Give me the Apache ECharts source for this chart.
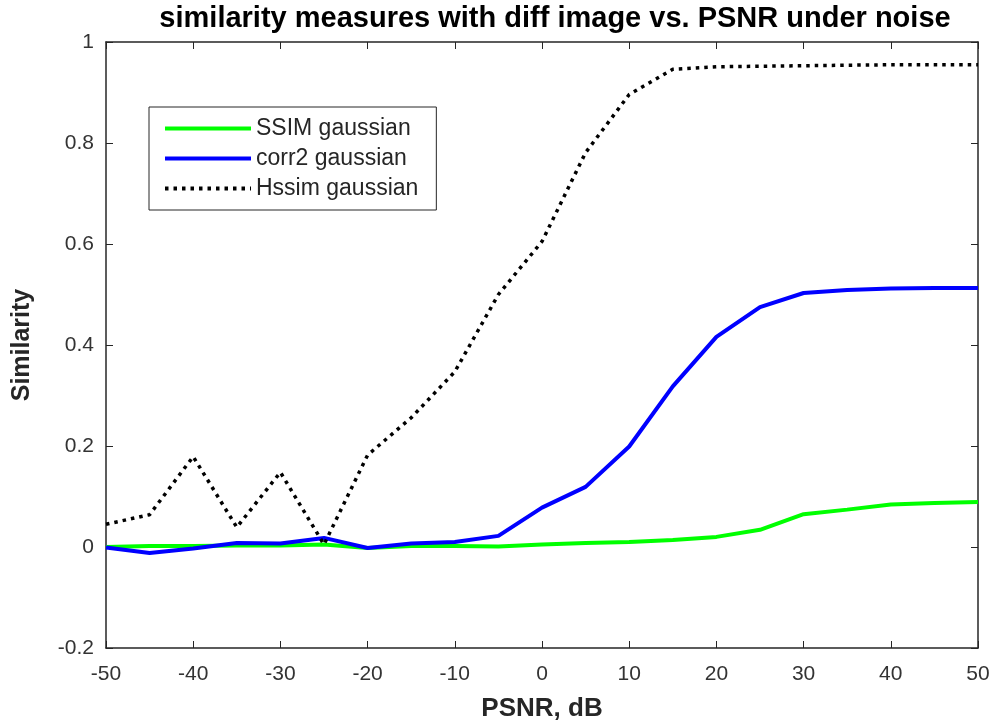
<!DOCTYPE html>
<html>
<head>
<meta charset="utf-8">
<script src="https://cdn.jsdelivr.net/npm/echarts@6/dist/echarts.min.js"></script>
<style>
html,body{margin:0;padding:0;background:#fff;}
#chart{width:997px;height:727px;}
</style>
</head>
<body>
<div id="chart"></div>
<script>
// ---- data ----
const psnr  = [-50, -45, -40, -35, -30, -25, -20, -15, -10, -5, 0, 5, 10, 15, 20, 25, 30, 35, 40, 45, 50];
const ssim  = [0.000, 0.002, 0.002, 0.003, 0.003, 0.005, -0.002, 0.002, 0.002, 0.001, 0.005, 0.008, 0.010, 0.014, 0.020, 0.034, 0.065, 0.074, 0.084, 0.087, 0.089];
const corr2 = [-0.001, -0.012, -0.003, 0.008, 0.007, 0.018, -0.002, 0.007, 0.010, 0.022, 0.078, 0.119, 0.199, 0.318, 0.416, 0.475, 0.503, 0.509, 0.512, 0.513, 0.513];
const hssim = [0.045, 0.064, 0.179, 0.039, 0.148, 0.005, 0.182, 0.256, 0.347, 0.500, 0.605, 0.781, 0.896, 0.946, 0.951, 0.952, 0.953, 0.954, 0.955, 0.955, 0.955];
const seriesNames = ['SSIM gaussian', 'corr2 gaussian', 'Hssim gaussian'];
const titleText = 'similarity measures with diff image vs. PSNR under noise';
const xName = 'PSNR, dB';
const yName = 'Similarity';

const pairs = ys => psnr.map((x, i) => [x, ys[i]]);
const FONT = 'Liberation Sans, Arial, Helvetica, sans-serif';
const AX = '#262626';

const chart = echarts.init(document.getElementById('chart'), null, {renderer: 'canvas'});

const baseX = {
  type: 'value', min: -50, max: 50, interval: 10,
  axisLine: {show: true, onZero: false, lineStyle: {color: AX, width: 1.5}},
  axisTick: {show: true, inside: true, length: 7, lineStyle: {color: AX, width: 1}},
  splitLine: {show: false}
};
const baseY = {
  type: 'value', min: -0.2, max: 1, interval: 0.2,
  axisLine: {show: true, onZero: false, lineStyle: {color: AX, width: 1.5}},
  axisTick: {show: true, inside: true, length: 7, lineStyle: {color: AX, width: 1}},
  splitLine: {show: false}
};

chart.setOption({
  backgroundColor: '#ffffff',
  animation: false,
  title: {
    text: titleText,
    left: 550, top: 0, padding: [4, 5, 5, 5],
    textAlign: 'center',
    textStyle: {fontFamily: FONT, fontWeight: 'bold', fontSize: 29, color: '#000'}
  },
  grid: {left: 106, right: 19, top: 42, bottom: 79, outerBoundsMode: 'none'},
  legend: {
    orient: 'vertical',
    left: 149, top: 107,
    padding: [10, 18, 10, 14],
    itemWidth: 86, itemHeight: 22, itemGap: 7,
    borderColor: AX, borderWidth: 1, backgroundColor: '#fff',
    itemStyle: {opacity: 0},
    lineStyle: {width: 4},
    textStyle: {fontFamily: FONT, fontSize: 23, color: AX},
    data: seriesNames
  },
  xAxis: [
    Object.assign({}, baseX, {
      position: 'bottom',
      name: xName, nameLocation: 'middle', nameGap: 48,
      nameTextStyle: {fontFamily: FONT, fontWeight: 'bold', fontSize: 26, color: AX},
      axisLabel: {show: true, margin: 16, fontFamily: FONT, fontSize: 21, color: '#333'}
    }),
    Object.assign({}, baseX, {position: 'top', axisLabel: {show: false}})
  ],
  yAxis: [
    Object.assign({}, baseY, {
      position: 'left',
      name: yName, nameLocation: 'middle', nameGap: 71, nameRotate: 90,
      nameTextStyle: {fontFamily: FONT, fontWeight: 'bold', fontSize: 25, color: AX},
      axisLabel: {show: true, margin: 12, fontFamily: FONT, fontSize: 21, color: '#333'}
    }),
    Object.assign({}, baseY, {position: 'right', axisLabel: {show: false}})
  ],
  series: [
    {
      name: seriesNames[0], type: 'line', data: pairs(ssim),
      xAxisIndex: 0, yAxisIndex: 0,
      symbol: 'none', showSymbol: false,
      lineStyle: {color: '#00ff00', width: 4},
      itemStyle: {color: '#00ff00'}
    },
    {
      name: seriesNames[1], type: 'line', data: pairs(corr2),
      xAxisIndex: 0, yAxisIndex: 0,
      symbol: 'none', showSymbol: false,
      lineStyle: {color: '#0000ff', width: 4},
      itemStyle: {color: '#0000ff'}
    },
    {
      name: seriesNames[2], type: 'line', data: pairs(hssim),
      xAxisIndex: 0, yAxisIndex: 0,
      symbol: 'none', showSymbol: false,
      lineStyle: {color: '#000000', width: 3.5, type: [3.5, 5], cap: 'butt'},
      itemStyle: {color: '#000000'}
    }
  ]
});
</script>
</body>
</html>
